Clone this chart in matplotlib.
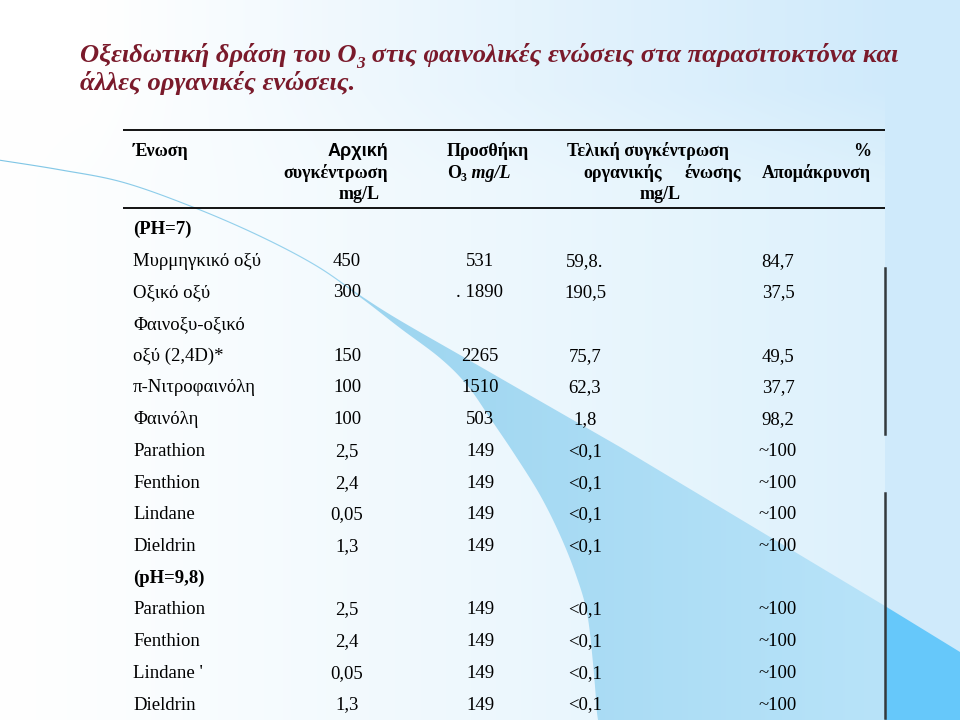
import numpy as np
import matplotlib
matplotlib.use("Agg")
import matplotlib.pyplot as plt
from matplotlib.patches import Polygon
from matplotlib.colors import to_rgb

# ---------------- data ----------------
title_line1_a = "Οξειδωτική δράση του Ο"
title_sub = "3"
title_line1_b = " στις φαινολικές ενώσεις στα παρασιτοκτόνα και"
title_line2 = "άλλες οργανικές ενώσεις."

row_labels = ["(PH=7)", "Μυρμηγκικό οξύ", "Οξικό οξύ", "Φαινοξυ-οξικό",
              "οξύ (2,4D)*", "π-Νιτροφαινόλη", "Φαινόλη", "Parathion",
              "Fenthion", "Lindane", "Dieldrin", "(pH=9,8)", "Parathion",
              "Fenthion", "Lindane '", "Dieldrin"]
section_rows = ["(PH=7)", "(pH=9,8)"]
initial_conc = ["", "450", "300", "", "150", "100", "100", "2,5", "2,4",
                "0,05", "1,3", "", "2,5", "2,4", "0,05", "1,3"]
ozone_added = ["", "531", ". 1890", "", "2265", "1510", "503", "149", "149",
               "149", "149", "", "149", "149", "149", "149"]
final_conc = ["", "59,8.", "190,5", "", "75,7", "62,3", "1,8", "<0,1", "<0,1",
              "<0,1", "<0,1", "", "<0,1", "<0,1", "<0,1", "<0,1"]
removal_pct = ["", "84,7", "37,5", "", "49,5", "37,7", "98,2", "~100", "~100",
               "~100", "~100", "", "~100", "~100", "~100", "~100"]

hdr_compound = "Ένωση"
hdr_initial = ["Αρχική", "συγκέντρωση", "mg/L"]
hdr_ozone = ["Προσθήκη", "Ο", "3", " mg/L"]
hdr_final = ["Τελική συγκέντρωση", "οργανικής", "ένωσης", "mg/L"]
hdr_removal = ["%", "Απομάκρυνση"]

# ---------------- figure ----------------
W, H = 960, 720
fig = plt.figure(figsize=(9.6, 7.2), dpi=100)
ax = fig.add_axes([0, 0, 1, 1])
ax.set_xlim(0, W)
ax.set_ylim(H, 0)
ax.axis("off")

def lerp(c1, c2, t):
    c1 = np.array(to_rgb(c1)); c2 = np.array(to_rgb(c2))
    t = np.asarray(t)[..., None]
    return c1 * (1 - t) + c2 * t

def smooth(pts, n=12):
    """Catmull-Rom smoothing of a decorative outline."""
    p = np.array(pts, dtype=float)
    p = np.vstack([p[0], p, p[-1]])
    out = []
    for i in range(1, len(p) - 2):
        p0, p1, p2, p3 = p[i - 1], p[i], p[i + 1], p[i + 2]
        for t in np.linspace(0, 1, n, endpoint=False):
            t2, t3 = t * t, t * t * t
            out.append(0.5 * ((2 * p1) + (-p0 + p2) * t +
                              (2 * p0 - 5 * p1 + 4 * p2 - p3) * t2 +
                              (-p0 + 3 * p1 - 3 * p2 + p3) * t3))
    out.append(p[-2])
    return [tuple(q) for q in out]

xs = np.arange(W) + 0.5
ys = np.arange(H) + 0.5
X, Y = np.meshgrid(xs, ys)
body = lerp("#ffffff", "#ddf1fc", np.clip(X / 885.0, 0, 1) ** 1.1)
title_zone = lerp("#ffffff", "#cde9fb", np.clip((X - 90) / 850.0, 0, 1))
blend = np.clip((Y - 90) / 90.0, 0, 1)[..., None]
bg = title_zone * (1 - blend) + body * blend
bg[:, 885:] = np.array(to_rgb("#cfeafb"))
ax.imshow(bg, extent=(0, W, H, 0), zorder=0, interpolation="bilinear")

# blade swoosh
upper = smooth([(0, 159.7), (60, 169.2), (123, 181.7), (193, 206.5), (260, 235.5),
                (317, 265.5), (362, 296.5), (400, 320.5), (467, 359),
                (533, 397), (620, 447)]) + [(885, 606)]
lower = [(885, 720), (598, 720)] + smooth(
        [(597, 713), (593, 663), (587, 613), (576, 575), (560, 535),
         (540, 495), (515, 455), (490, 418), (467, 385), (440, 358),
         (400, 328), (362, 298.6), (317, 266.9), (260, 236.8), (193, 207.7),
         (123, 182.9), (60, 170.4), (0, 160.8)])
blade = Polygon(upper + lower, closed=True, facecolor="none", edgecolor="none")
ax.add_patch(blade)
grad = lerp("#7cc4e4", "#b8e3f9", np.clip(X / 885.0, 0, 1) ** 0.7)
gim = ax.imshow(grad, extent=(0, W, H, 0), zorder=1, interpolation="bilinear")
gim.set_clip_path(blade)
ax.add_patch(Polygon([(885, 606), (960, 652), (960, 720), (885, 720)],
                     closed=True, facecolor="#66c8fa", edgecolor="none", zorder=1))

# ---------------- title ----------------
title_color = "#7a1a2b"
renderer = fig.canvas.get_renderer()

def right_edge(t):
    bb = t.get_window_extent(renderer=renderer)
    return ax.transData.inverted().transform((bb.x1, bb.y0))[0]

def place_seq(parts, x0, y, **kw):
    x = x0
    arts = []
    for txt, size, dy, extra in parts:
        t = ax.text(x, y + dy, txt, fontsize=size, va="baseline", ha="left",
                    zorder=5, **kw, **extra)
        x = right_edge(t)
        arts.append(t)
    return x, arts

tkw = dict(family="Liberation Serif", fontweight="bold", fontstyle="italic",
           color=title_color)
fs = 19
end, arts = place_seq([(title_line1_a, fs, 0, {}), (title_sub, fs * 0.65, 6, {}),
                       (title_line1_b, fs, 0, {})], 80, 62, **tkw)
scale = (900 - 80) / (end - 80)
for a in arts:
    a.remove()
fs = fs * scale
place_seq([(title_line1_a, fs, 0, {}), (title_sub, fs * 0.65, 6, {}),
           (title_line1_b, fs, 0, {})], 80, 62, **tkw)
ax.text(80, 90, title_line2, fontsize=fs, va="baseline", ha="left", zorder=5, **tkw)

# ---------------- table ----------------
serif = "Liberation Serif"
body_fs = 13.5
hdr_fs = 13

ax.plot([123, 885], [130, 130], color="black", lw=1.3, zorder=4,
        solid_capstyle="butt")
ax.plot([123, 885], [208, 208], color="black", lw=1.3, zorder=4,
        solid_capstyle="butt")
ax.plot([884.5, 884.5], [268, 434], color="#333a3d", lw=1.8, zorder=4)
ax.plot([884.5, 884.5], [493, 718], color="#333a3d", lw=1.8, zorder=4)

hb = [156, 178, 199]   # header baselines
hk = dict(family=serif, fontweight="bold", fontsize=hdr_fs, va="baseline",
          zorder=5, color="black")
ax.text(133, hb[0], hdr_compound, ha="left", **hk)
ax.text(388, hb[0], hdr_initial[0], ha="right", family="Liberation Sans",
        fontweight="bold", fontsize=hdr_fs, va="baseline", zorder=5)
ax.text(388, hb[1], hdr_initial[1], ha="right", **hk)
ax.text(359, hb[2], hdr_initial[2], ha="center", **hk)
ax.text(447, hb[0], hdr_ozone[0], ha="left", **hk)
# Ο3 mg/L
t = ax.text(447, hb[1], hdr_ozone[1], ha="left", **hk)
x = right_edge(t)
t = ax.text(x, hb[1] + 3, hdr_ozone[2], ha="left", family=serif, fontweight="bold",
            fontsize=hdr_fs * 0.65, va="baseline", zorder=5)
x = right_edge(t)
ax.text(x, hb[1], hdr_ozone[3], ha="left", family=serif, fontweight="bold",
        fontstyle="italic", fontsize=hdr_fs, va="baseline", zorder=5)
ax.text(567, hb[0], hdr_final[0], ha="left", **hk)
ax.text(583, hb[1], hdr_final[1], ha="left", **hk)
ax.text(741, hb[1], hdr_final[2], ha="right", **hk)
ax.text(660, hb[2], hdr_final[3], ha="center", **hk)
ax.text(871, hb[0], hdr_removal[0], ha="right", **hk)
ax.text(871, hb[1], hdr_removal[1], ha="right", **hk)

row_y0, row_dy = 234, 31.7   # baselines
col_x = [347, 480, 585, 778]
for i, lab in enumerate(row_labels):
    y = row_y0 + i * row_dy
    bold = lab in section_rows
    ax.text(133, y, lab, ha="left", va="baseline", family=serif, fontsize=body_fs,
            fontweight="bold" if bold else "normal", zorder=5)
    for cx, col in zip(col_x, [initial_conc, ozone_added, final_conc, removal_pct]):
        if col[i]:
            ax.text(cx, y, col[i], ha="center", va="baseline", family=serif,
                    fontsize=body_fs, zorder=5)

fig.savefig("out.png", dpi=100)
